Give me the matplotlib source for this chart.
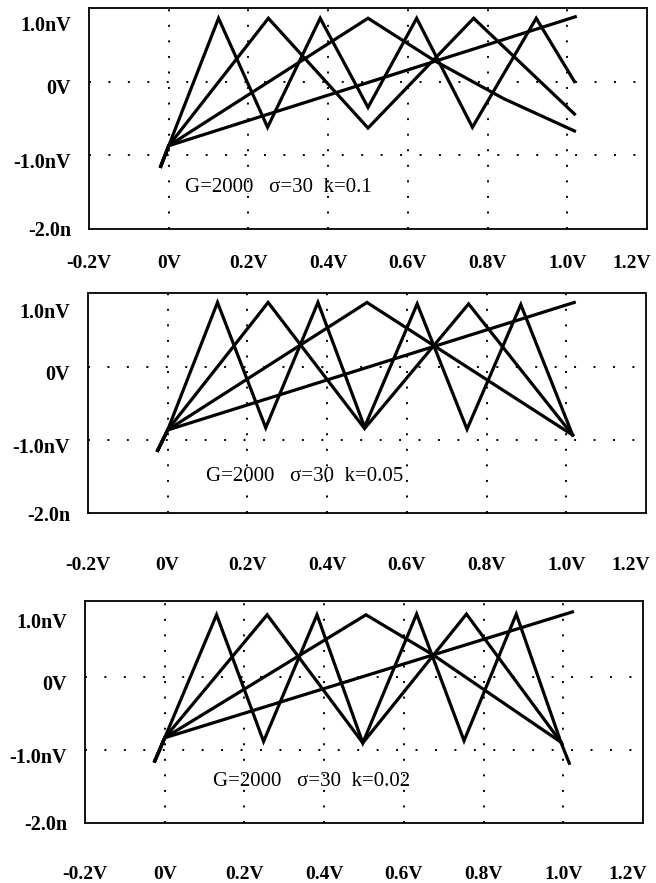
import matplotlib
matplotlib.use("Agg")
import matplotlib.pyplot as plt
import matplotlib.transforms as mtransforms

SERIF = ["Liberation Serif", "DejaVu Serif"]

X_TICKS = [-0.2, 0.0, 0.2, 0.4, 0.6, 0.8, 1.0, 1.2]
X_LABELS = ["-0.2V", "0V", "0.2V", "0.4V", "0.6V", "0.8V", "1.0V", "1.2V"]
Y_TICKS = [1.0, 0.0, -1.0, -2.0]
Y_LABELS = ["1.0nV", "0V", "-1.0nV", "-2.0n"]
GRID_X = [0.0, 0.2, 0.4, 0.6, 0.8, 1.0]
GRID_Y = [0.0, -1.0]

# panel 1, k=0.1
K1_A_X = [-0.02, 0.0, 0.125, 0.248, 0.38, 0.50, 0.622, 0.762, 0.922, 1.018]
K1_A_Y = [-1.15, -0.87, 0.86, -0.62, 0.86, -0.35, 0.86, -0.62, 0.86, 0.0]
K1_B_X = [-0.02, 0.0, 0.25, 0.50, 0.765, 1.018]
K1_B_Y = [-1.15, -0.87, 0.86, -0.63, 0.86, -0.44]
K1_C_X = [-0.02, 0.0, 0.50, 0.668, 0.84, 1.018]
K1_C_Y = [-1.15, -0.87, 0.86, 0.28, -0.23, -0.67]
K1_D_X = [-0.02, 0.0, 1.02]
K1_D_Y = [-1.15, -0.87, 0.88]

# panel 2, k=0.05
K2_A_X = [-0.025, 0.0, 0.125, 0.246, 0.377, 0.494, 0.626, 0.751, 0.886, 1.016]
K2_A_Y = [-1.14, -0.86, 0.89, -0.83, 0.89, -0.82, 0.87, -0.85, 0.86, -0.93]
K2_B_X = [-0.025, 0.0, 0.252, 0.494, 0.755, 1.016]
K2_B_Y = [-1.14, -0.86, 0.89, -0.84, 0.87, -0.93]
K2_C_X = [-0.025, 0.0, 0.50, 1.016]
K2_C_Y = [-1.14, -0.86, 0.89, -0.93]
K2_D_X = [-0.025, 0.0, 1.02]
K2_D_Y = [-1.14, -0.86, 0.89]

# panel 3, k=0.02
K3_A_X = [-0.025, 0.0, 0.13, 0.248, 0.382, 0.497, 0.632, 0.751, 0.882, 0.994, 1.015]
K3_A_Y = [-1.15, -0.83, 0.86, -0.88, 0.86, -0.90, 0.87, -0.87, 0.87, -0.89, -1.18]
K3_B_X = [-0.025, 0.0, 0.257, 0.497, 0.757, 0.994]
K3_B_Y = [-1.15, -0.83, 0.86, -0.90, 0.87, -0.89]
K3_C_X = [-0.025, 0.0, 0.505, 0.673, 0.994]
K3_C_Y = [-1.15, -0.83, 0.86, 0.31, -0.89]
K3_D_X = [-0.025, 0.0, 1.023]
K3_D_Y = [-1.15, -0.83, 0.90]


def shift(fig, lbl, dx, dy):
    # dx, dy in pixels at dpi 100
    off = mtransforms.ScaledTranslation(dx / 100, dy / 100, fig.dpi_scale_trans)
    lbl.set_transform(lbl.get_transform() + off)


def plot_panel(fig, rect, curves, label, text_xy, ytop, xpad):
    ax = fig.add_axes(rect)
    ax.set_xlim(-0.2, 1.2)
    ax.set_ylim(-2.0, ytop)

    # sparse dotted grid
    for gx in GRID_X:
        ax.axvline(gx, color="k", lw=1.4, ls=(0, (1, 7)), zorder=1)
    for gy in GRID_Y:
        ax.axhline(gy, color="k", lw=1.4, ls=(0, (1, 9)), zorder=1)

    for xs, ys in curves:
        ax.plot(xs, ys, color="k", lw=2.3, solid_joinstyle="miter", zorder=3)

    ax.text(text_xy[0], text_xy[1], label, fontsize=15, family=SERIF,
            va="center", ha="left")

    for sp in ax.spines.values():
        sp.set_linestyle((0, (1, 1)))
        sp.set_linewidth(1.3)

    ax.set_xticks(X_TICKS)
    ax.set_xticklabels(X_LABELS, family=SERIF, fontweight="bold", fontsize=14)
    ax.set_yticks(Y_TICKS)
    ax.set_yticklabels(Y_LABELS, family=SERIF, fontweight="bold", fontsize=14.5)
    ax.tick_params(axis="both", length=0)
    ax.tick_params(axis="x", pad=xpad)
    ax.tick_params(axis="y", pad=13)

    # the printed labels sit a little under their grid rows
    ylbls = ax.get_yticklabels()
    for i, lbl in enumerate(ylbls):
        if i == 0:
            shift(fig, lbl, 0, -16)
        elif i < len(ylbls) - 1:
            shift(fig, lbl, 0, -5)
    # last x label is pulled in so it stays on the page
    shift(fig, ax.get_xticklabels()[-1], -15, 0)
    return ax


fig = plt.figure(figsize=(6.56, 8.83), dpi=100)

plot_panel(fig, [0.1357, 0.7407, 0.8506, 0.2503],
           [(K1_A_X, K1_A_Y), (K1_B_X, K1_B_Y), (K1_C_X, K1_C_Y), (K1_D_X, K1_D_Y)],
           "G=2000   \u03c3=30  k=0.1", (0.04, -1.44), 1.0, 19)
plot_panel(fig, [0.1341, 0.4190, 0.8506, 0.2492],
           [(K2_A_X, K2_A_Y), (K2_B_X, K2_B_Y), (K2_C_X, K2_C_Y), (K2_D_X, K2_D_Y)],
           "G=2000   \u03c3=30  k=0.05", (0.095, -1.50), 1.02, 32)
plot_panel(fig, [0.1296, 0.0680, 0.8506, 0.2514],
           [(K3_A_X, K3_A_Y), (K3_B_X, K3_B_Y), (K3_C_X, K3_C_Y), (K3_D_X, K3_D_Y)],
           "G=2000   \u03c3=30  k=0.02", (0.12, -1.43), 1.05, 31)

fig.savefig("out.png", dpi=100)
